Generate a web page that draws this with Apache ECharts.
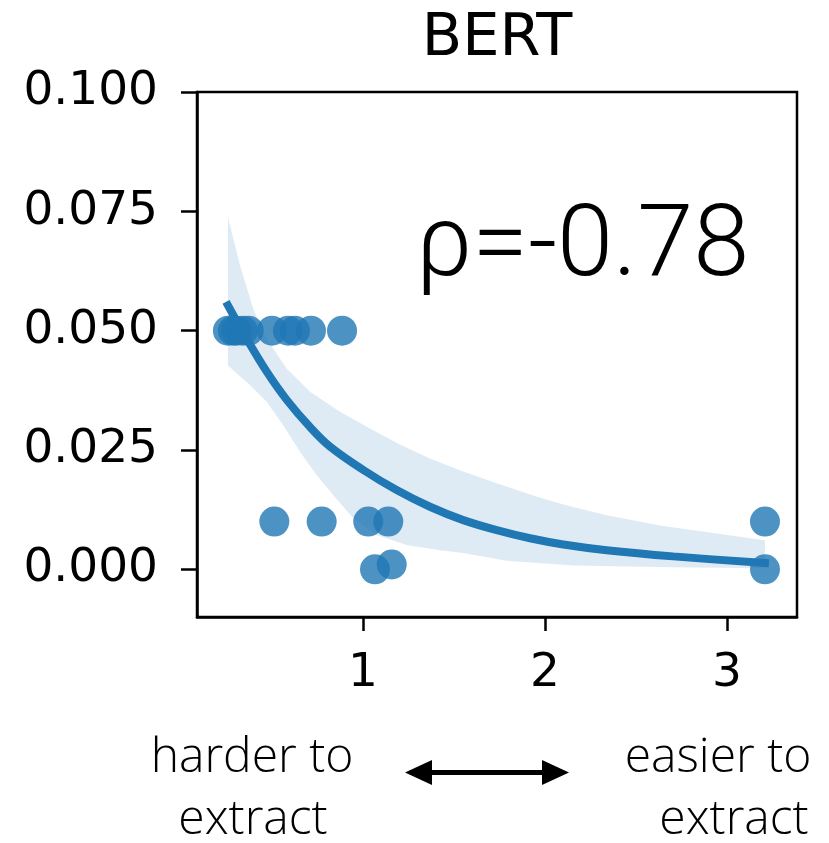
<!DOCTYPE html>
<html>
<head>
<meta charset="utf-8">
<script src="https://cdn.jsdelivr.net/npm/echarts@6/dist/echarts.min.js"></script>
<style>
  html, body { margin: 0; padding: 0; background: #fff; }
  #chart { width: 829px; height: 843px; }
</style>
</head>
<body>
<div id="chart"></div>
<script>
// Observed probe scores (x) against extraction score (y)
const obsX = [0.258, 0.285, 0.305, 0.340, 0.372, 0.500, 0.588, 0.626, 0.714, 0.885,
              0.513, 0.773, 1.029, 1.139,
              1.066, 1.158,
              3.209, 3.209];
const obsY = [0.050, 0.050, 0.050, 0.050, 0.050, 0.050, 0.050, 0.050, 0.050, 0.050,
              0.010, 0.010, 0.010, 0.010,
              0.000, 0.001,
              0.010, 0.000];

// Fitted trend line
const fitX = [0.258, 0.361, 0.471, 0.581, 0.709, 0.819, 1.002, 1.185, 1.368, 1.551, 1.735, 1.918, 2.101, 2.339, 2.705, 3.209];
const fitY = [0.0553, 0.0483, 0.0414, 0.0355, 0.0298, 0.0257, 0.0208, 0.0166, 0.0131, 0.0103, 0.0082, 0.0065, 0.0052, 0.0040, 0.0027, 0.0013];

// Confidence band edges
const bandUpX = [0.258, 0.324, 0.397, 0.471, 0.581, 0.709, 0.874, 1.038, 1.200, 1.368, 1.550, 1.735, 1.973, 2.137, 2.339, 2.640, 3.209];
const bandUpY = [0.0738, 0.0637, 0.0546, 0.0483, 0.0420, 0.0372, 0.0330, 0.0295, 0.0262, 0.0232, 0.0205, 0.0180, 0.0150, 0.0132, 0.0113, 0.0091, 0.0061];
const bandLoX = [0.258, 0.379, 0.471, 0.562, 0.654, 0.746, 0.837, 0.947, 1.075, 1.240, 1.423, 1.551, 1.790, 2.155, 2.705, 3.209];
const bandLoY = [0.0427, 0.0386, 0.0351, 0.0302, 0.0246, 0.0197, 0.0155, 0.0107, 0.0072, 0.0051, 0.0040, 0.0034, 0.0018, 0.0008, 0.0004, 0.0002];

// Tick labels
const xTicks = [1, 2, 3];
const yTicks = [0, 0.025, 0.05, 0.075, 0.1];

const titleText = 'BERT';
const rhoText = 'ρ=-0.78';
const leftNote = ['harder to', 'extract'];
const rightNote = ['easier to', 'extract'];

const blue = '#1f77b4';

const scatterData = obsX.map((x, i) => [x, obsY[i]]);
const fitData = fitX.map((x, i) => [x, fitY[i]]);
const bandPoly = bandUpX.map((x, i) => [x, bandUpY[i]])
  .concat(bandLoX.map((x, i) => [x, bandLoY[i]]).reverse());

const chart = echarts.init(document.getElementById('chart'), null, { renderer: 'canvas' });

const tickFont = { fontFamily: 'DejaVu Sans', fontSize: 47, color: '#000' };
const noteFont = '300 48px "Open Sans"';

chart.setOption({
  animation: false,
  backgroundColor: '#fff',
  grid: {
    left: 197, right: 32, top: 92, bottom: 226,
    show: true, borderColor: '#000', borderWidth: 2.5, backgroundColor: 'transparent'
  },
  xAxis: {
    type: 'value', min: 0.088, max: 3.385,
    splitLine: { show: false },
    axisLine: { show: true, onZero: false, lineStyle: { color: '#000', width: 2.5 } },
    axisTick: { show: true, length: 14, customValues: xTicks, lineStyle: { color: '#000', width: 2.5 } },
    axisLabel: Object.assign({ margin: 33, customValues: xTicks, formatter: v => String(v) }, tickFont)
  },
  yAxis: {
    type: 'value', min: -0.01, max: 0.1,
    splitLine: { show: false },
    axisLine: { show: true, onZero: false, lineStyle: { color: '#000', width: 2.5 } },
    axisTick: { show: true, length: 16, customValues: yTicks, lineStyle: { color: '#000', width: 2.5 } },
    axisLabel: Object.assign({ margin: 39, customValues: yTicks, formatter: v => v.toFixed(3) }, tickFont)
  },
  series: [
    {
      type: 'custom',
      z: 1,
      silent: true,
      data: [0],
      renderItem: function (params, api) {
        const pts = bandPoly.map(p => api.coord(p));
        return {
          type: 'polygon',
          shape: { points: pts, smooth: 0 },
          style: { fill: 'rgba(31,119,180,0.15)', stroke: null }
        };
      }
    },
    {
      type: 'scatter',
      z: 2,
      data: scatterData,
      symbol: 'circle',
      symbolSize: 30,
      itemStyle: { color: blue, opacity: 0.8, borderWidth: 0 }
    },
    {
      type: 'line',
      z: 3,
      data: fitData,
      smooth: 0.35,
      showSymbol: false,
      symbol: 'none',
      lineStyle: { color: blue, width: 8, cap: 'square' }
    }
  ],
  graphic: [
    {
      type: 'text', x: 497, y: 40,
      style: { text: titleText, font: '59px "DejaVu Sans"', fill: '#000', align: 'center', verticalAlign: 'middle' }
    },
    {
      type: 'text', x: 416, y: 250,
      style: { text: rhoText, font: '300 101px Roboto', fill: '#000', align: 'left', verticalAlign: 'middle' }
    },
    {
      type: 'text', x: 252, y: 758,
      style: { text: leftNote[0], font: noteFont, fill: '#000', align: 'center', verticalAlign: 'middle' }
    },
    {
      type: 'text', x: 253, y: 820,
      style: { text: leftNote[1], font: noteFont, fill: '#000', align: 'center', verticalAlign: 'middle' }
    },
    {
      type: 'text', x: 718, y: 758,
      style: { text: rightNote[0], font: noteFont, fill: '#000', align: 'center', verticalAlign: 'middle' }
    },
    {
      type: 'text', x: 734, y: 820,
      style: { text: rightNote[1], font: noteFont, fill: '#000', align: 'center', verticalAlign: 'middle' }
    },
    // double-headed arrow between the two notes
    {
      type: 'line',
      shape: { x1: 425, y1: 772.5, x2: 550, y2: 772.5 },
      style: { stroke: '#000', lineWidth: 5 }
    },
    {
      type: 'polygon',
      shape: { points: [[405, 772.5], [432, 760], [432, 785]] },
      style: { fill: '#000' }
    },
    {
      type: 'polygon',
      shape: { points: [[569, 772.5], [542, 760], [542, 785]] },
      style: { fill: '#000' }
    }
  ]
});
</script>
</body>
</html>
